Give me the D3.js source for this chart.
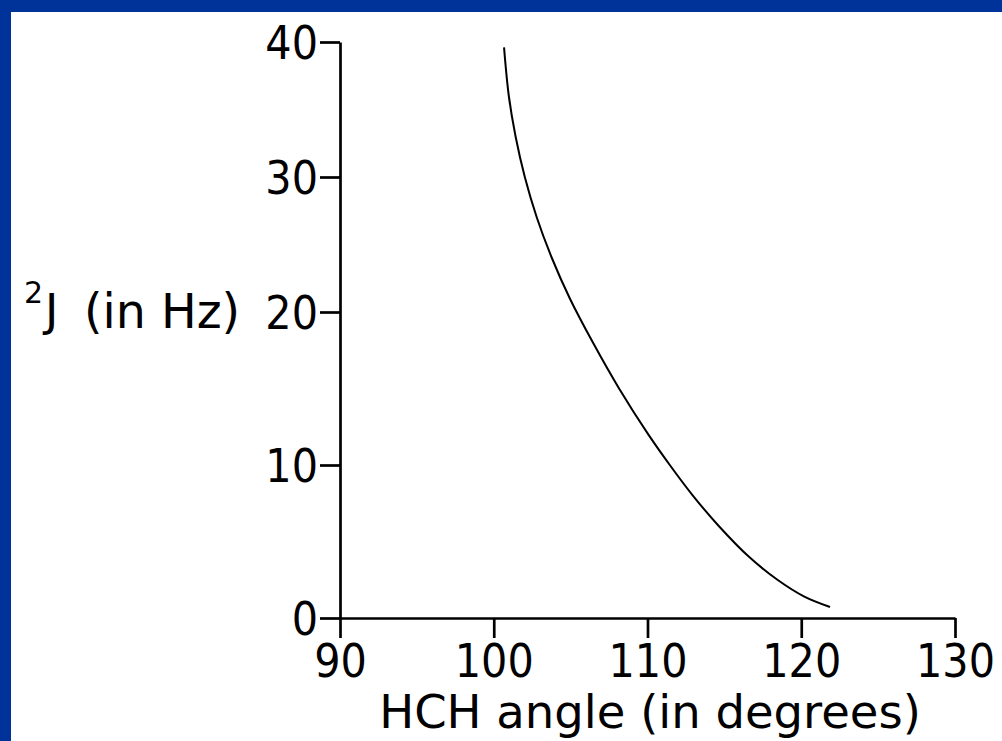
<!DOCTYPE html>
<html>
<head>
<meta charset="utf-8">
<script src="https://cdn.jsdelivr.net/npm/d3@7"></script>
<style>
  html, body { margin: 0; padding: 0; background: #fff; }
  svg { display: block; }
</style>
</head>
<body>
<svg id="chart" width="1002" height="741"></svg>
<script>
// Geminal coupling constant 2J versus the H–C–H bond angle
const angles = [100.67, 100.98, 101.42, 102.02, 102.80, 103.78, 104.95, 106.45, 108.15,
                110.05, 111.45, 112.95, 114.65, 116.60, 118.45, 120.20, 121.87];
const couplings = [39.6, 36, 33, 30, 27, 24, 21, 18, 15,
                   12, 10, 8, 6, 4, 2.5, 1.4, 0.72];
const xTicks = [90, 100, 110, 120, 130];
const yTicks = [0, 10, 20, 30, 40];

const svg = d3.select("#chart");
const W = 1002, H = 741;

// slide-style frame: white page with a blue band on the top and left
svg.append("rect").attr("width", W).attr("height", H).attr("fill", "#ffffff");
svg.append("rect").attr("x", 0).attr("y", 0).attr("width", W).attr("height", 12).attr("fill", "#003399");
svg.append("rect").attr("x", 0).attr("y", 0).attr("width", 11).attr("height", H).attr("fill", "#003399");

const x = d3.scaleLinear().domain([90, 130]).range([340, 955]);
// the vertical axis of this plot is not evenly spaced; a piecewise scale follows its tick marks
const y = d3.scaleLinear().domain(yTicks).range([618, 465, 312, 177, 42]);

const tickFont = "'DejaVu Sans Condensed', 'DejaVu Sans', sans-serif";
const labelFont = "'DejaVu Sans', Verdana, sans-serif";

const xAxis = svg.append("g")
  .attr("transform", `translate(0,${y(0)})`)
  .call(d3.axisBottom(x).tickValues(xTicks).tickFormat(d3.format("d"))
        .tickSize(20).tickSizeOuter(0).tickPadding(6));

const yAxis = svg.append("g")
  .attr("transform", `translate(${x(90)},0)`)
  .call(d3.axisLeft(y).tickValues(yTicks).tickFormat(d3.format("d"))
        .tickSize(20).tickSizeOuter(0).tickPadding(2));

[xAxis, yAxis].forEach(g => {
  g.selectAll("path.domain, .tick line").attr("stroke", "#000").attr("stroke-width", 2.7);
  g.selectAll(".tick text")
    .attr("fill", "#000")
    .style("font-family", tickFont)
    .style("font-size", "46px");
});
yAxis.selectAll(".tick text").attr("dy", "0.36em");

// curve
const line = d3.line()
  .x((d, i) => x(angles[i]))
  .y((d, i) => y(couplings[i]))
  .curve(d3.curveCatmullRom.alpha(0.5));

svg.append("path")
  .datum(angles)
  .attr("d", line)
  .attr("fill", "none")
  .attr("stroke", "#000")
  .attr("stroke-width", 2);

// axis titles
svg.append("text")
  .attr("x", 650).attr("y", 728)
  .attr("text-anchor", "middle")
  .style("font-family", labelFont)
  .style("font-size", "46.5px")
  .attr("fill", "#000")
  .text("HCH angle (in degrees)");

const yLabel = svg.append("text")
  .style("font-family", labelFont)
  .attr("fill", "#000");
yLabel.append("tspan").attr("x", 24).attr("y", 303).style("font-size", "30px").text("2");
yLabel.append("tspan").attr("x", 45).attr("y", 326).style("font-size", "45px").text("J");
yLabel.append("tspan").attr("x", 84).attr("y", 328).style("font-size", "47.5px").text("(in Hz)");
</script>
</body>
</html>
